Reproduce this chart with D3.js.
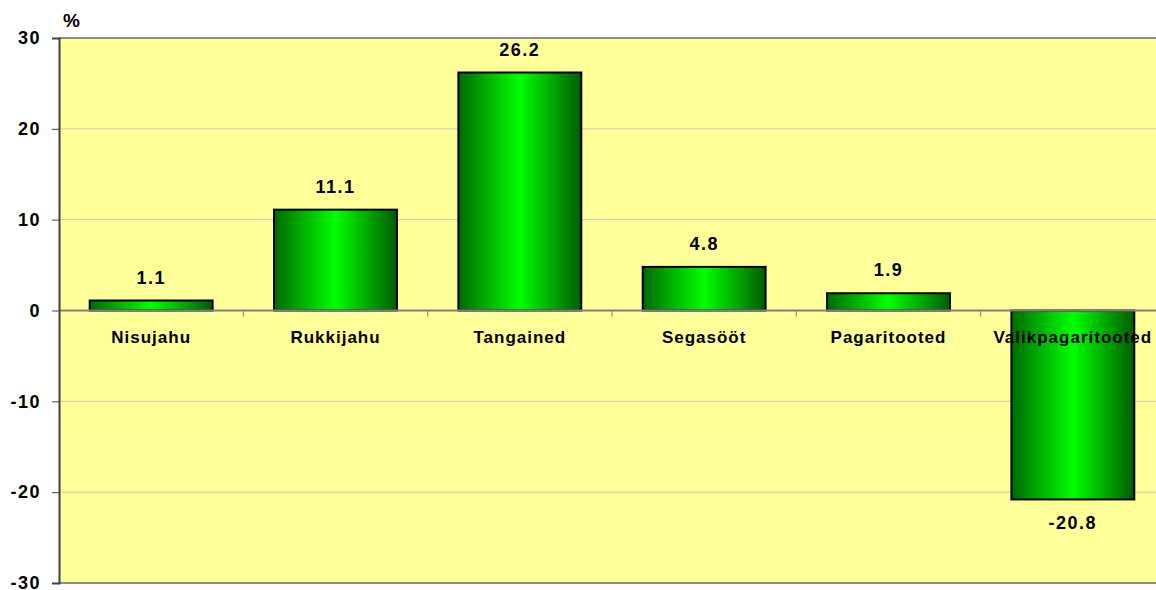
<!DOCTYPE html>
<html><head><meta charset="utf-8">
<script src="https://cdn.jsdelivr.net/npm/d3@7"></script>
<style>
html,body{margin:0;padding:0;background:#fff;}
svg{display:block;font-family:Arial,"Liberation Sans",sans-serif;}
</style></head>
<body>
<svg id="chart" width="1156" height="590"></svg>
<script>
const categories = ["Nisujahu","Rukkijahu","Tangained","Segasööt","Pagaritooted","Valikpagaritooted"];
const values = [1.1, 11.1, 26.2, 4.8, 1.9, -20.8];
const yTicks = [-30,-20,-10,0,10,20,30];
const unitLabel = "%";

const svg = d3.select("#chart");
const plotLeft = 59, plotRight = 1165, plotTop = 38, plotBottom = 583;

const x = d3.scaleBand().domain(categories).range([plotLeft, plotRight]).paddingInner(1/3).paddingOuter(1/6);
const y = d3.scaleLinear().domain([-30, 30]).range([plotBottom, plotTop]);

const defs = svg.append("defs");
const g = defs.append("linearGradient").attr("id","barGrad").attr("x1","0").attr("x2","1").attr("y1","0").attr("y2","0");
g.append("stop").attr("offset","0%").attr("stop-color","#006a00");
g.append("stop").attr("offset","50%").attr("stop-color","#00ff00");
g.append("stop").attr("offset","100%").attr("stop-color","#005c00");

// plot background
svg.append("rect").attr("x", plotLeft).attr("y", plotTop).attr("width", plotRight-plotLeft).attr("height", plotBottom-plotTop).attr("fill","#ffff99");

// gridlines
svg.append("g").selectAll("line").data(yTicks.filter(d=>d!==0)).join("line")
  .attr("x1", plotLeft).attr("x2", plotRight)
  .attr("y1", d=>y(d)).attr("y2", d=>y(d))
  .attr("stroke", d => Math.abs(d)===30 ? "#8c8c8c" : "#c8c8c8")
  .attr("stroke-width", d => Math.abs(d)===30 ? 2 : 1);

// bars
svg.append("g").selectAll("rect").data(values).join("rect")
  .attr("x", (d,i)=>x(categories[i]))
  .attr("width", x.bandwidth())
  .attr("y", d=>y(Math.max(0,d)))
  .attr("height", d=>Math.abs(y(d)-y(0)))
  .attr("fill","url(#barGrad)")
  .attr("stroke","#000").attr("stroke-width",2);

// zero (category) axis
svg.append("line").attr("x1", plotLeft).attr("x2", plotRight).attr("y1", y(0)).attr("y2", y(0))
  .attr("stroke","#808080").attr("stroke-width",2);
// category tick marks
const xt = d3.range(1, categories.length).map(i => plotLeft + i*(plotRight-plotLeft)/categories.length);
svg.append("g").selectAll("line").data(xt).join("line")
  .attr("x1", d=>d).attr("x2", d=>d).attr("y1", y(0)).attr("y2", y(0)+6)
  .attr("stroke","#808080").attr("stroke-width",1);

// y axis
const yAxis = d3.axisLeft(y).tickValues(yTicks).tickSize(7).tickPadding(11).tickFormat(d => String(d));
const ya = svg.append("g").attr("transform",`translate(${plotLeft},0)`).call(yAxis);
ya.select(".domain").attr("stroke","#404040").attr("stroke-width",2);
ya.selectAll(".tick line").attr("stroke","#404040").attr("stroke-width",1);
ya.selectAll(".tick text").attr("font-size","18px").attr("font-weight","bold").attr("fill","#000")
  .attr("font-family","Arial, 'Liberation Sans', sans-serif").attr("letter-spacing","1.5px").attr("dy","0.32em");

// category labels
svg.append("g").selectAll("text").data(categories).join("text")
  .attr("x", d=>x(d)+x.bandwidth()/2)
  .attr("y", y(0)+32)
  .attr("text-anchor","middle")
  .attr("font-size","17px").attr("font-weight","bold").attr("letter-spacing","1px")
  .attr("fill","#000")
  .text(d=>d);

// value labels
svg.append("g").selectAll("text").data(values).join("text")
  .attr("x", (d,i)=>x(categories[i])+x.bandwidth()/2)
  .attr("y", d => d>=0 ? y(d)-17 : y(d)+30)
  .attr("text-anchor","middle")
  .attr("font-size","18px").attr("font-weight","bold").attr("letter-spacing","1.5px")
  .attr("fill","#000")
  .text(d=>d.toFixed(1));

// unit label
svg.append("text").attr("x", 63).attr("y", 27).attr("font-size","19px").attr("font-weight","bold").attr("fill","#000").text(unitLabel);
</script>
</body></html>
